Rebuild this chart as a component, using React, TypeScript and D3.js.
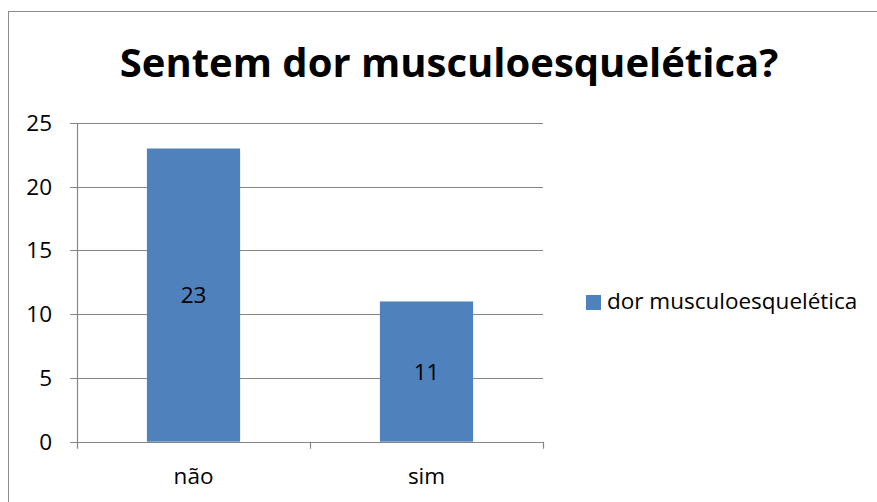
import React from "react";
import * as d3 from "d3";

const categories = ["não", "sim"];
const values = [23, 11];
const seriesName = "dor musculoesquelética";
const yTicks = [0, 5, 10, 15, 20, 25];
const title = "Sentem dor musculoesquelética?";

export default function App() {
  const W = 877, H = 502;
  const left = 77, right = 543, top = 123, bottom = 441.7;
  const xc = d3.scaleBand<string>().domain(categories).range([left, right]);
  const barW = xc.bandwidth() * 0.4;
  const y = d3.scaleLinear().domain([0, 25]).range([bottom, top]);
  const font = "'Open Sans', sans-serif";
  const grid = "#868686";
  const fs = 22.5;
  return (
    <svg width={W} height={H} style={{ position: "absolute", left: 0, top: 0, background: "#fff" }} fontFamily={font}>
      <rect x={8.5} y={11.5} width={W + 20} height={H + 20} fill="#fff" stroke="#8c8c8c" strokeWidth={1} />
      <text x={449} y={77} textAnchor="middle" fontSize={40} fontWeight="bold" fill="#000">{title}</text>
      {yTicks.map(t => (
        <g key={t}>
          <line x1={left - 7} x2={right} y1={Math.round(y(t)) + 0.5} y2={Math.round(y(t)) + 0.5} stroke={grid} strokeWidth={1.2} />
          <text x={52} y={y(t) + 8} textAnchor="end" fontSize={fs} fill="#000">{t}</text>
        </g>
      ))}
      <line x1={left + 0.5} x2={left + 0.5} y1={top} y2={bottom + 7} stroke={grid} strokeWidth={1.2} />
      {categories.map(c => (
        <line key={c} x1={Math.round(xc(c)! + xc.bandwidth()) + 0.5} x2={Math.round(xc(c)! + xc.bandwidth()) + 0.5} y1={bottom} y2={bottom + 7} stroke={grid} strokeWidth={1.2} />
      ))}
      {categories.map((c, i) => {
        const cx = xc(c)! + xc.bandwidth() / 2;
        return (
          <g key={c}>
            <rect x={cx - barW / 2} y={y(values[i])} width={barW} height={bottom - y(values[i])} fill="#4F81BD" />
            <text x={cx} y={(y(values[i]) + bottom) / 2 + 8} textAnchor="middle" fontSize={fs} fill="#000">{values[i]}</text>
            <text x={cx} y={484} textAnchor="middle" fontSize={fs} fill="#000">{c}</text>
          </g>
        );
      })}
      <rect x={586} y={295} width={15} height={15} fill="#4F81BD" />
      <text x={607} y={309} fontSize={fs} fill="#000">{seriesName}</text>
    </svg>
  );
}
